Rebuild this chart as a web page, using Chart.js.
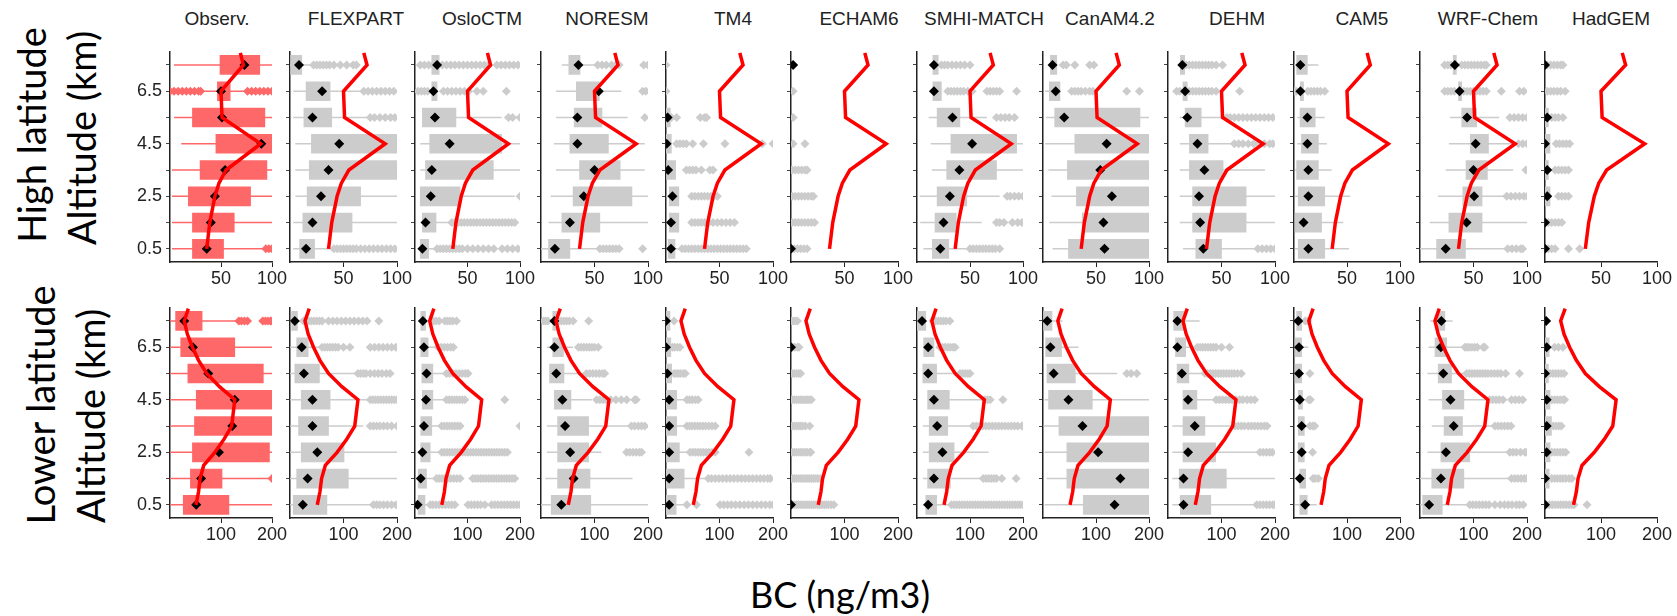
<!DOCTYPE html>
<html lang="en">
<head>
<meta charset="UTF-8" />
<title>BC vertical profiles</title>
<script src="https://cdn.jsdelivr.net/npm/chart.js@4.4.0/dist/chart.umd.min.js"></script>
<style>
  body { margin:0; background:#fff; width:1677px; height:616px; overflow:hidden; position:relative; font-family:'Liberation Sans', Arial, sans-serif; }
  .panel { position:absolute; }
  .title { position:absolute; top:8px; font-size:19px; color:#222; transform:translateX(-50%); white-space:nowrap; }
  .side { position:absolute; font-family:Lato, 'Open Sans', sans-serif; font-size:38px; color:#000; white-space:nowrap; transform:translate(-50%,-50%) rotate(-90deg); }
  .xlabel { position:absolute; left:840px; top:594px; transform:translate(-50%,-50%); font-family:Lato, 'Open Sans', sans-serif; font-size:36px; color:#000; white-space:nowrap; }
</style>
</head>
<body>
<div class="side" style="left:31px; top:135px;">High latitude</div>
<div class="side" style="left:81px; top:138px;">Altitude (km)</div>
<div class="side" style="left:40px; top:405px;">Lower latitude</div>
<div class="side" style="left:90px; top:416px;">Altitude (km)</div>
<div class="xlabel">BC (ng/m3)</div>

<script>
  // panels, altitude levels (top to bottom) and tick labels
  const models = ['Observ.', 'FLEXPART', 'OsloCTM', 'NORESM', 'TM4', 'ECHAM6', 'SMHI-MATCH', 'CanAM4.2', 'DEHM', 'CAM5', 'WRF-Chem', 'HadGEM'];
  const levels = [7.5, 6.5, 5.5, 4.5, 3.5, 2.5, 1.5, 0.5];
  const yTickLabels = ['0.5', '2.5', '4.5', '6.5'];
  const topXTicks = [50, 100];
  const lowXTicks = [100, 200];

  // observed mean profile (red line), high and lower latitude
  const redAltTop = [7.96, 7.8, 7.5, 6.5, 5.5, 4.5, 3.5, 3.0, 2.5, 1.5, 0.5];
  const redTop = [69, 70, 72, 50, 51, 89, 55, 48, 44, 39, 36];
  const redAltLow = [7.97, 7.5, 7.0, 6.5, 6.0, 5.5, 5.0, 4.5, 3.5, 3.0, 2.5, 2.0, 1.5, 1.0, 0.5];
  const redLow = [36, 28, 34, 44, 56, 72, 97, 127, 121, 106, 88, 66, 59, 56, 51];

  // ---- high latitude: box (q1..q3), mean, whisker range, outliers ----
  const topQ1 = [
    [49, 46.5, 22, 45, 29.5, 18, 22, 22],
    [0.6, 15, 13, 20, 18, 16, 12, 9],
    [16, 16, 7, 14, 10, 5, 7, 5],
    [26, 33, 31, 27, 36, 30, 19.5, 7],
    [null, null, 0, 0, 0.6, 3, 3, 2],
    [null, null, null, null, null, null, null, null],
    [15, 15, 19, 32, 28, 19, 17, 14.5],
    [7, 6, 11, 30, 23, 31.5, 37, 24],
    [11.5, 14, 16, 20, 20, 23, 23, 26],
    [2.5, 6, 5.7, 7, 2.5, 4, 1, 4],
    [31, 36, 39, 47, 43, 40, 27, 15.5],
    [null, null, 0, 0, 0, 0, null, null]
  ];
  const topQ3 = [
    [88, 59, 93, 100, 95, 79, 63, 52.5],
    [11, 37.5, 39, 100, 100, 66, 58, 23],
    [23, 21, 39, 82.5, 74.6, 43, 20, 13],
    [36.5, 54.5, 57, 63, 74, 85, 55, 27],
    [null, null, 4, 5, 9, 12, 12, 8.4],
    [null, null, null, null, null, null, null, null],
    [20, 23, 40.5, 94, 75, 47, 37, 30],
    [13, 16, 91.5, 100, 100, 100, 100, 100],
    [15.6, 18, 31, 37.5, 51.5, 73, 73, 50],
    [12.6, 9, 20, 23, 23, 29, 26, 29],
    [34, 39, 53, 64, 63, 58, 58, 42.5],
    [null, null, 3, 4.5, 3, 4.5, null, null]
  ];
  const topMean = [
    [73, 50, 51, 89.5, 54, 44, 40, 36],
    [8.4, 30, 21, 46, 36, 29, 21, 15],
    [21, 17.5, 19, 33, 16, 15, 10, 7],
    [35, 54, 34, 34, 50, 40, 27, 13],
    [null, null, 1.5, 0.6, 2, 6, 4.7, 4.7],
    [2, null, null, null, null, null, null, 0],
    [16, 16, 33.5, 52, 40, 31, 25, 22],
    [9, 12, 20, 60, 54, 65, 57, 58],
    [13.4, 16, 18, 27.5, 34, 29, 30, 33],
    [6, 6, 12.6, 12.6, 13.5, 13.5, 9, 13.5],
    [32.6, 37, 44, 52, 50, 50.6, 43.5, 24],
    [0, null, 2, 0, 2, 2, 0, 0]
  ];
  const topWLo = [
    [4, 30, 4, 11, 2, 2, 2, 2],
    [0, 3, 3, 5, 5, 5, 3, 3],
    [16, 16, 7, 5, 5, 5, 7, 5],
    [19.5, 14, 14, 12, 14, 9, 7, 0],
    [null, null, 0, 0, 0, 0, 0, 0],
    [null, null, null, null, null, null, null, null],
    [15, 15, 11, 13, 14, 2.5, 3, 6],
    [7, 2, 3, 2, 5, 8, 6, 9],
    [11.5, 14, 11, 11, 11, 11, 11, 14],
    [0, 6, 3, 3, 1, 1, 1, 1],
    [31, 36, 28, 27, 24, 17, 9, 0],
    [null, null, null, null, null, null, null, null]
  ];
  const topWHi = [
    [100, 75, 100, 100, 100, 100, 100, 92],
    [22, 67, 72, 100, 100, 100, 100, 40],
    [23, 21, 82.5, 100, 100, 95, 33, 20.6],
    [52, 75, 81, 97, 97, 100, 100, 55],
    [null, null, 4, 5, 9, 12, 12, 14],
    [null, null, null, null, null, null, null, null],
    [20, 23, 66, 100, 100, 78, 61, 50],
    [13, 16, 100, 100, 100, 100, 100, 100],
    [15.6, 18, 55, 62, 90.6, 100, 100, 84],
    [23, 9, 29, 31, 35.5, 53, 46.5, 52],
    [34, 39, 74, 100, 87, 81, 100, 81],
    [null, null, null, null, null, null, null, null]
  ];
  const topOut = [
    [[], [0, 4, 8, 12, 16, 20, 24, 28, 30, 76, 80, 84, 88, 92, 96, 100], [], [], [], [], [], [94, 97, 100]],
    [[22, 25, 28, 31, 34, 37, 41, 47, 53, 59, 62], [69, 73, 77, 81, 85, 89, 93, 97], [75, 79, 84, 89, 94, 98], [], [], [], [],
     [41, 44, 47, 50, 53, 56, 59, 62, 66, 70, 74, 78, 82, 86, 90, 94, 98]],
    [[5, 9, 13, 17, 26, 30, 34, 38, 42, 46, 50, 54, 58, 62, 66, 70, 78, 82, 86, 90, 94, 98], [3, 6, 9, 12, 27, 31, 35, 39, 43, 47, 51, 59, 65, 87],
     [89, 93, 100], [], [], [100], [35, 38, 41, 44, 47, 50, 53, 56, 59, 62, 65, 68, 71, 74, 77, 80, 83, 86, 89, 92, 95],
     [21, 24, 27, 30, 33, 36, 39, 42, 45, 50, 55, 60, 65, 70, 75, 83, 88, 93, 98]],
    [[53, 57, 61, 66, 70, 73, 96, 100], [95, 98], [97], [], [], [], [], [55, 58, 61, 64, 67, 70, 73, 95]],
    [[0], [0], [5, 10, 32, 36, 38], [10, 13, 16, 19, 25, 35, 55, 90, 100], [19, 22, 25, 28, 33, 41, 44], [24, 27, 30, 33, 36, 39, 42, 45, 48],
     [24, 27, 30, 33, 36, 40, 44, 48, 52, 56, 60, 64], [15, 18, 21, 24, 27, 30, 33, 36, 39, 42, 45, 48, 51, 54, 57, 60, 63, 66, 69, 72, 75]],
    [[], [2], [2], [2, 13], [1, 4, 7, 10, 13, 15], [1, 4, 7, 10, 13, 16, 19, 21], [1, 4, 7, 10, 13, 16, 19, 22], [0, 3, 6, 9, 12, 15]],
    [[23, 26, 29, 33, 37, 41, 45, 50], [29, 32, 35, 38, 41, 44, 48, 52, 66, 69, 72, 75, 78, 94], [75, 79, 83, 87, 92], [], [],
     [85, 88, 92, 96, 100], [75, 78, 82, 90, 95, 99], [50, 53, 56, 59, 62, 65, 68, 71, 74, 78]],
    [[19, 22, 30, 44, 48], [27, 30, 33, 36, 40, 44, 47, 79, 91], [], [], [], [], [], []],
    [[17, 20, 23, 26, 29, 32, 35, 38, 41, 45, 51], [8, 11, 20, 23, 26, 29, 32, 35, 38, 41, 45, 67],
     [55, 58, 62, 66, 70, 74, 78, 82, 86, 90, 94, 98], [62, 66, 70, 75, 80, 85, 90, 95, 98], [], [], [], [84, 88, 92, 96, 100]],
    [[], [0, 2, 13, 16, 19, 22, 25, 29], [], [], [], [], [], []],
    [[23, 26, 29, 39, 42, 45, 48, 51, 54, 57, 60, 62], [23, 26, 29, 32, 41, 44, 47, 50, 53, 56, 59, 62, 76, 93, 97], [84, 88, 92, 96, 100],
     [92, 96, 100], [99], [81, 85, 89, 93, 97, 100], [], [82, 86, 90, 94, 96]],
    [[2, 5, 8, 11, 14, 16], [2, 5, 8, 11, 14, 18], [6, 9, 12, 16], [10, 13, 16, 19, 22], [9, 12, 15, 18, 21], [12, 15, 18, 21],
     [3, 6, 9, 12, 15], [0, 3, 6, 9, 21, 31]]
  ];

  // ---- lower latitude ----
  const lowQ1 = [
    [11, 21, 35, 51.5, 48, 44, 40, 26],
    [3, 12.5, 9, 21, 16, 21, 12.5, 6],
    [11, 11, 13, 14, 11, 11, 6, 6],
    [22, 22, 16, 25, 31, 31, 31, 19],
    [0, 0, 0, 0, 0, 0, 0, 0],
    [null, null, null, null, null, null, null, null],
    [0, 12.6, 11, 20, 23, 23, 20, 16.5],
    [1, 5, 7.5, 10.5, 30, 45, 45, 76],
    [10.6, 14, 17, 28, 28, 28, 21, 23],
    [5, 2, 2, 8, 8, 8, 11, 11],
    [34, 28, 34, 42, 45, 39, 22, 5],
    [null, 0, 0, 0, 0, 0, 0, null]
  ];
  const lowQ3 = [
    [63, 127, 183, 200, 200, 195, 102, 115.5],
    [14, 34, 55, 75, 72, 101, 109, 69],
    [20, 25, 34, 34, 32, 29, 22, 19],
    [31, 42, 43, 56, 89, 89, 91.6, 93],
    [7.5, 9, 10.6, 20, 20, 25, 34, 19],
    [null, null, null, null, null, null, null, null],
    [16.5, 32, 37, 61, 58, 70, 63, 37],
    [17, 35, 61, 93, 200, 200, 200, 200],
    [31, 33, 39, 54, 69, 89, 109, 80],
    [14.5, 14.5, 14.5, 16, 19.5, 19.5, 22, 25],
    [46.5, 50, 59, 82, 79.5, 93, 82, 41.6],
    [null, 7.5, 6, 9, 11.6, 9, 7.5, null]
  ];
  const lowMean = [
    [28, 45, 75, 127, 122, 96, 61, 51.5],
    [9, 22, 26, 42, 42, 51, 33, 24],
    [15, 17, 22, 21, 17, 14, 11, 5],
    [25, 25, 28.5, 40, 45, 54.5, 61, 38],
    [0, 0, 2.5, 6, 6, 6, 6, 6],
    [null, 0, null, null, null, null, null, 0],
    [9.5, 21, 21, 32, 38, 48, 32, 21],
    [8, 14, 20, 48, 74.5, 104, 146, 135],
    [17.5, 17.5, 26, 37.5, 50, 37.5, 29, 29],
    [8, 9.4, 9.4, 11, 14.5, 14.5, 11, 21],
    [40, 39, 43.5, 57, 63, 48.5, 39, 17],
    [2, 3, 0, 3, 3, 3, 0, 0]
  ];
  const lowWLo = [
    [0, 0, 0, 0, 0, 0, 0, 0],
    [0, 0, 0, 0, 0, 0, 0, 0],
    [11, 11, 13, 14, 11, 11, 6, 3],
    [22, 11, 16, 25, 11, 11, 8, 0],
    [0, 0, 0, 0, 0, 0, 0, 0],
    [null, null, null, null, null, null, null, null],
    [0, 12.6, 11, 20, 11, 11, 11, 11],
    [1, 5, 7.5, 3, 1, 3, 7, 3],
    [10.6, 14, 17, 28, 8, 8, 8, 8],
    [5, 2, 2, 8, 8, 8, 11, 2],
    [19, 16, 14, 16, 22, 14, 0, 0],
    [null, null, null, null, null, null, null, null]
  ];
  const lowWHi = [
    [129, 200, 200, 200, 200, 200, 195, 200],
    [25, 59, 125, 150, 137, 200, 200, 156],
    [20, 44, 60, 60, 51, 51, 41, 29],
    [31, 60, 86, 95, 165, 113, 171, 200],
    [7.5, 9, 10.6, 39, 39, 45, 76, 32],
    [null, null, null, null, null, null, null, null],
    [16.5, 32, 81, 128, 106, 135, 125, 65],
    [37, 67, 140, 200, 200, 200, 200, 200],
    [59, 53, 69, 90, 125, 169, 200, 159],
    [14.5, 27, 14.5, 16, 19.5, 19.5, 22, 43],
    [61, 81, 87, 130, 140, 168, 167, 93],
    [null, null, null, null, null, null, null, null]
  ];
  const lowOut = [
    [[135, 140, 146, 152, 182, 187, 192, 197, 200], [], [], [], [], [], [200], []],
    [[25, 30, 35, 40, 45, 50, 55, 60, 72, 80, 88, 96, 104, 112, 120, 128, 136, 144, 166],
     [60, 65, 70, 75, 80, 85, 90, 100, 112, 150, 158, 166, 174, 182, 190, 198],
     [127, 132, 137, 142, 150, 158, 165, 172, 180, 187], [150, 155, 160, 165, 170, 175, 180, 185, 190, 195, 200],
     [150, 156, 162, 168, 175, 182, 190, 200], [], [], [156, 162, 168, 175, 182, 190, 198]],
    [[35, 40, 46, 57, 62, 67, 72, 79], [44, 50, 56, 62, 68, 73], [60, 66, 72, 78, 84, 90, 96, 101], [60, 65, 70, 75, 80, 85, 90, 95, 171],
     [51, 56, 61, 66, 71, 76, 81, 86, 200],
     [51, 56, 61, 66, 71, 76, 81, 86, 91, 96, 101, 106, 111, 116, 121, 126, 131, 136, 141, 146, 151, 156, 161, 166, 171, 176],
     [41, 46, 51, 56, 62, 68, 74, 80, 86, 110, 115, 120, 125, 130, 135, 140, 145, 150, 155, 160, 165, 170, 175, 180, 185, 190],
     [29, 34, 40, 46, 52, 58, 64, 70, 76, 101, 107, 113, 119, 125, 133, 146, 152, 158, 164, 170, 176, 182, 188, 194, 200]],
    [[5, 9, 13, 33, 38, 43, 48, 53, 60, 89], [70, 75, 80, 85, 90, 95, 100, 107], [85, 91, 97, 103, 109, 115, 119],
     [104, 110, 116, 122, 130, 140, 150, 160, 175, 178], [169, 175, 182, 188, 194], [160, 166, 172, 178, 184, 188], [], []],
    [[15], [8, 12, 16, 21, 26], [15, 19, 23, 27, 32, 36], [39, 44, 49, 55, 60], [39, 44, 49, 54, 59, 64, 69, 74, 80, 86, 92],
     [45, 50, 55, 60, 65, 70, 75, 80, 86, 92, 155],
     [79, 85, 92, 99, 106, 113, 120, 127, 134, 141, 148, 155, 162, 169, 176, 183, 190, 195],
     [39, 57, 101, 108, 115, 122, 130, 138, 146, 154, 162, 170, 178, 186, 194, 200]],
    [[0, 4, 8, 12], [3, 7, 12, 15], [2, 6, 10, 15, 18], [2, 6, 10, 14, 18, 22, 26, 30, 34, 38], [2, 6, 10, 14, 18, 22, 27, 35],
     [2, 6, 10, 14, 18, 22, 26, 30, 35, 37], [2, 6, 10, 14, 18, 22, 26, 30, 34, 38, 42, 46, 50, 55],
     [2, 6, 10, 14, 18, 22, 26, 30, 34, 38, 42, 46, 50, 54, 58, 62, 66, 70, 75, 80]],
    [[30, 35, 40, 45, 50, 55, 62], [43, 48, 53, 58, 63, 68, 72], [81, 86, 91, 96, 100], [128, 133, 138, 162],
     [106, 112, 118, 124, 130, 136, 142, 148, 154, 160, 166, 172, 178, 184, 190, 198, 200], [], [125, 130, 135, 140, 145, 150, 160, 187],
     [65, 70, 75, 80, 85, 90, 95, 100, 105, 110, 115, 120, 125, 130, 135, 140, 145, 150, 155, 160, 165, 170, 175, 180, 185, 190, 195, 200]],
    [[], [], [158, 166, 177], [], [], [], [], []],
    [[], [55, 60, 65, 70, 75, 80, 85, 90, 100, 115], [69, 74, 79, 84, 89, 94, 99, 104, 109, 114, 119, 124, 130, 137],
     [90, 96, 102, 108, 114, 120, 127, 134, 140, 148, 155, 162], [125, 131, 137, 143, 150, 156, 162, 168, 174, 180, 185],
     [172, 178, 184, 190, 195], [], [166, 172, 178, 184, 190, 196, 200]],
    [[21, 26], [], [30], [28, 31], [30, 35, 39], [35], [36, 40, 46], []],
    [[], [84, 88, 92, 97, 102, 107, 118, 121], [87, 92, 97, 102, 107, 112, 117, 122, 127, 133, 139, 145, 151, 160, 186],
     [130, 136, 142, 148, 155, 171, 178, 185, 192], [140, 146, 152, 158, 164, 170], [168, 174, 180, 188, 196, 200],
     [171, 177, 183, 189, 195, 200], [93, 99, 105, 111, 117, 123, 129, 140, 150, 158, 165, 172, 180, 186, 193]],
    [[], [17, 24, 32], [9, 14, 19, 24, 29, 34], [12, 17, 22, 27, 32, 35], [15, 20, 25, 29], [12, 17, 22, 27, 32, 37],
     [12, 17, 22, 27, 32, 37, 43, 48], [3, 8, 13, 18, 23, 28, 33, 38, 43, 48, 52, 75]]
  ];

  // layout (pixels)
  const panelX = [[170, 272], [290, 397], [415, 520], [541, 648], [666, 773], [791, 898],
                  [917, 1023], [1043, 1149], [1168, 1275], [1294, 1400], [1420, 1527], [1545, 1657]];
  const titleX = [217, 356, 482, 607, 733, 859, 984, 1110, 1237, 1362, 1488, 1611];
  const dashedAxis = ['TM4', 'HadGEM'];

  models.forEach((m, i) => {
    const t = document.createElement('div');
    t.className = 'title';
    t.style.left = titleX[i] + 'px';
    t.textContent = m;
    document.body.appendChild(t);
  });

  const tickFont = { family: 'Liberation Sans', size: 18 };

  function drawPanel(row, i) {
    const top = row === 0;
    const q1 = (top ? topQ1 : lowQ1)[i], q3 = (top ? topQ3 : lowQ3)[i];
    const mean = (top ? topMean : lowMean)[i];
    const wlo = (top ? topWLo : lowWLo)[i], whi = (top ? topWHi : lowWHi)[i];
    const out = (top ? topOut : lowOut)[i];
    const redAlt = top ? redAltTop : redAltLow, red = top ? redTop : redLow;
    const xTicks = top ? topXTicks : lowXTicks;
    const obs = i === 0;

    const [x0, x1] = panelX[i];
    const plotTop = top ? 43 : 299, plotBottom = top ? 262 : 518;
    const yW = obs ? 48 : 12, padT = 6, padR = 22, xH = 40;

    const div = document.createElement('div');
    div.className = 'panel';
    div.style.left = (x0 - yW) + 'px';
    div.style.top = (plotTop - padT) + 'px';
    div.style.width = (yW + x1 - x0 + padR) + 'px';
    div.style.height = (padT + plotBottom - plotTop + xH) + 'px';
    const cv = document.createElement('canvas');
    div.appendChild(cv);
    document.body.appendChild(div);

    const boxCol = obs ? '#ff6868' : '#cccccc';

    const whisk = [];
    levels.forEach((y, k) => {
      if (wlo[k] != null) whisk.push({ x: wlo[k], y: y }, { x: whi[k], y: y }, { x: null, y: null });
    });
    const boxes = [];
    levels.forEach((y, k) => { if (q1[k] != null) boxes.push({ x: [q1[k], q3[k]], y: y }); });
    const outliers = [];
    levels.forEach((y, k) => out[k].forEach(v => outliers.push({ x: v, y: y })));
    const means = [];
    levels.forEach((y, k) => { if (mean[k] != null) means.push({ x: mean[k], y: y }); });

    new Chart(cv, {
      type: 'scatter',
      data: {
        datasets: [
          { type: 'line', data: whisk, borderColor: boxCol, borderWidth: 1.5, pointRadius: 0, spanGaps: false, order: 5 },
          { type: 'bar', indexAxis: 'y', data: boxes, backgroundColor: boxCol, borderWidth: 0, barThickness: 19, grouped: false, order: 4 },
          { data: outliers, pointStyle: 'rectRot', pointRadius: 4.5, backgroundColor: boxCol, borderWidth: 0, order: 3 },
          { data: means, pointStyle: 'rectRot', pointRadius: 5, backgroundColor: '#000', borderWidth: 0, order: 2 },
          { type: 'line', data: redAlt.map((a, k) => ({ x: red[k], y: a })), borderColor: '#ff0000', borderWidth: 3.5,
            pointRadius: 0, tension: 0, order: 1 }
        ]
      },
      options: {
        responsive: true,
        maintainAspectRatio: false,
        animation: false,
        events: [],
        layout: { padding: { top: padT, right: padR, left: 0, bottom: 0 } },
        plugins: { legend: { display: false }, tooltip: { enabled: false } },
        scales: {
          x: {
            type: 'linear', min: 0, max: top ? 100 : 200, offset: false,
            afterBuildTicks: s => { s.ticks = xTicks.map(v => ({ value: v })); },
            afterFit: s => { s.height = xH; },
            grid: { drawOnChartArea: false, drawTicks: true, tickLength: 5, color: '#222', offset: false },
            border: { display: true, color: '#222', width: 1.5 },
            ticks: { font: tickFont, color: '#222', padding: 1, maxRotation: 0, autoSkip: false }
          },
          y: {
            type: 'linear', min: 0, max: 8, offset: false,
            afterBuildTicks: s => { s.ticks = levels.map(v => ({ value: v })); },
            afterFit: s => { s.width = yW; },
            grid: { drawOnChartArea: false, drawTicks: true, tickLength: 4, color: '#444', offset: false },
            border: { display: true, color: '#222', width: 1.5, dash: dashedAxis.includes(models[i]) ? [6, 4] : [] },
            ticks: {
              font: tickFont, color: '#222', padding: 4, autoSkip: false,
              callback: v => (obs && yTickLabels.includes(v.toFixed(1))) ? v.toFixed(1) : ''
            }
          }
        }
      }
    });
  }

  for (let row = 0; row < 2; row++) {
    for (let i = 0; i < models.length; i++) drawPanel(row, i);
  }
</script>
</body>
</html>
